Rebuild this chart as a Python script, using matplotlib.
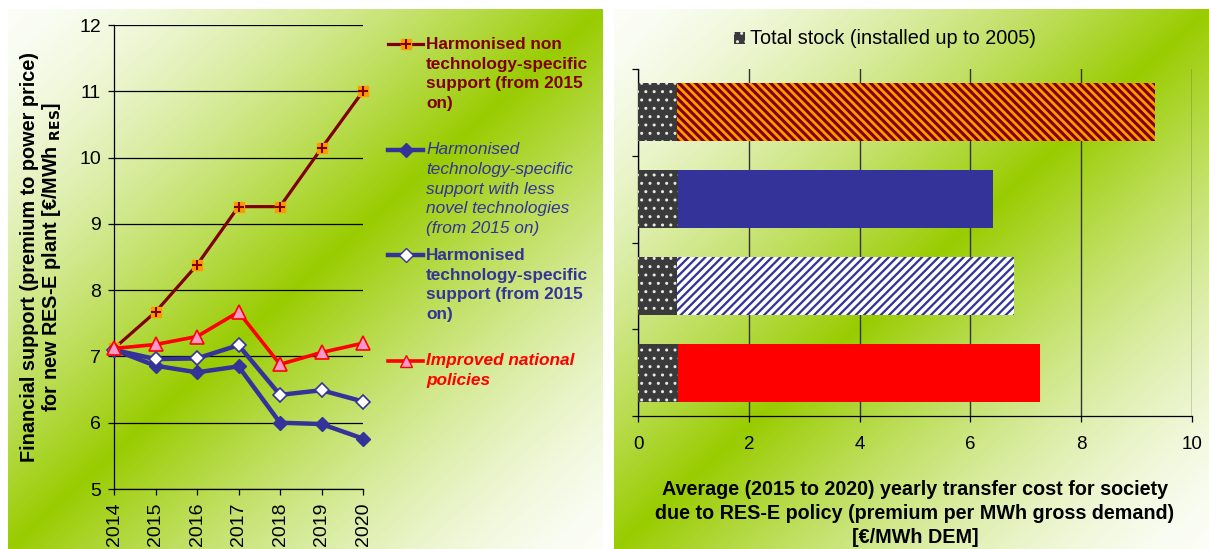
import numpy as np
import matplotlib
matplotlib.use("Agg")
import matplotlib.pyplot as plt
from matplotlib.lines import Line2D
from matplotlib.patches import Rectangle

plt.rcParams['font.family'] = ['Liberation Sans', 'DejaVu Sans']

# --- data ---
years = [2014, 2015, 2016, 2017, 2018, 2019, 2020]
non_tech = [7.12, 7.67, 8.38, 9.26, 9.26, 10.14, 11.0]
tech_less_novel = [7.1, 6.86, 6.76, 6.85, 6.0, 5.98, 5.76]
tech_specific = [7.1, 6.96, 6.97, 7.17, 6.42, 6.49, 6.32]
improved_national = [7.12, 7.18, 7.30, 7.67, 6.88, 7.06, 7.20]

series_labels = ["Harmonised non\ntechnology-specific\nsupport (from 2015\non)",
                 "Harmonised\ntechnology-specific\nsupport with less\nnovel technologies\n(from 2015 on)",
                 "Harmonised\ntechnology-specific\nsupport (from 2015\non)",
                 "Improved national\npolicies"]

# right chart: top to bottom
stock_cost = [0.71, 0.73, 0.71, 0.73]
total_cost = [9.33, 6.41, 6.78, 7.26]
stock_label = "Total stock (installed up to 2005)"

W, H = 1209, 549
fig = plt.figure(figsize=(W / 100, H / 100), dpi=100)

# background gradients (white -> green -> white along the diagonal)
bg = fig.add_axes([0, 0, 1, 1], zorder=-10)
bg.axis('off')
green = np.array([0.60, 0.80, 0.0])
white = np.array([1.0, 1.0, 1.0])


def gradient(x0, x1, y0, y1):
    u = np.linspace(0, 1, 300)[None, :]
    v = np.linspace(0, 1, 300)[:, None]
    t = (u + v) / 2
    w = np.clip(1 - np.abs(2 * t - 1), 0, 1) ** 1.5
    w = 0.03 + 0.97 * w
    img = white * (1 - w[..., None]) + green * w[..., None]
    bg.imshow(img, extent=(x0, x1, y1, y0), aspect='auto', interpolation='bilinear')


gradient(8, 603, 9, 549)
gradient(614, 1209, 9, 549)
bg.set_xlim(0, W)
bg.set_ylim(H, 0)

# ---------------- left chart ----------------
ax = fig.add_axes([114 / W, 1 - 489 / H, 249 / W, (489 - 25) / H])
ax.set_facecolor('none')
maroon = '#800000'
blue = '#333399'
red = '#FF0000'

ax.plot(years, non_tech, color=maroon, lw=2.3, marker='s', ms=7.5,
        mfc='#FF9900', mec='#FF9900', clip_on=False, zorder=3)
ax.plot(years, non_tech, ls='none', marker='+', ms=7.5, mew=1.5,
        mec=maroon, clip_on=False, zorder=3)
ax.plot(years, tech_less_novel, color=blue, lw=3.2, marker='D', ms=7.5,
        mfc=blue, mec=blue, clip_on=False, zorder=4)
ax.plot(years, tech_specific, color=blue, lw=3.2, marker='D', ms=7.5,
        mfc='white', mec=blue, mew=1.2, clip_on=False, zorder=5)
ax.plot(years, improved_national, color=red, lw=2.6, marker='^', ms=9.5,
        mfc='#FF99CC', mec=red, mew=1.2, clip_on=False, zorder=6)

ax.set_xlim(2014, 2020)
ax.set_ylim(5, 12)
ax.set_yticks(range(5, 13))
ax.set_xticks(years)
ax.set_xticklabels([str(y) for y in years], rotation=90)
ax.yaxis.grid(True, color='black', lw=0.9)
ax.set_axisbelow(True)
for s in ['top', 'right']:
    ax.spines[s].set_visible(False)
for s in ['left', 'bottom']:
    ax.spines[s].set_color('black')
    ax.spines[s].set_linewidth(0.9)
ax.tick_params(axis='both', direction='out', length=4.5, width=0.9,
               labelsize=14, pad=5)
ax.set_ylabel("Financial support (premium to power price)\n"
              r"for new RES-E plant [€/MWh $_{\mathbf{RES}}$]",
              fontsize=14.3, fontweight='bold', labelpad=11.5, linespacing=1.05)

# legend drawn beside the chart
leg_styles = [
    dict(color=maroon, fontweight='bold', fontstyle='normal'),
    dict(color=blue, fontweight='normal', fontstyle='italic'),
    dict(color=blue, fontweight='bold', fontstyle='normal'),
    dict(color=red, fontweight='bold', fontstyle='italic'),
]
leg_marks = [
    dict(color=maroon, lw=2.3, marker='s', ms=7, mfc='#FF9900', mec='#FF9900'),
    dict(color=blue, lw=3.2, marker='D', ms=7, mfc=blue, mec=blue),
    dict(color=blue, lw=3.2, marker='D', ms=7, mfc='white', mec=blue),
    dict(color=red, lw=2.6, marker='^', ms=8.5, mfc='#FF99CC', mec=red),
]
for i, (lab, st, mk) in enumerate(zip(series_labels, leg_styles, leg_marks)):
    yp = 44 + i * 105.5
    fy = 1 - yp / H
    fig.add_artist(Line2D([388 / W, 423 / W], [fy, fy], transform=fig.transFigure,
                          color=mk['color'], lw=mk['lw']))
    fig.add_artist(Line2D([405.5 / W], [fy], transform=fig.transFigure, ls='none',
                          marker=mk['marker'], ms=mk['ms'], mfc=mk['mfc'], mec=mk['mec']))
    if i == 0:
        fig.add_artist(Line2D([405.5 / W], [fy], transform=fig.transFigure, ls='none',
                              marker='+', ms=7, mew=1.5, mec=maroon))
    fig.text(426 / W, 1 - (yp - 7) / H, lab, ha='left', va='top', fontsize=12.4,
             linespacing=1.38, **st)

# ---------------- right chart ----------------
ax2 = fig.add_axes([638 / W, 1 - 416 / H, 554 / W, 347 / H])
ax2.set_facecolor('none')
pos = np.arange(len(total_cost))
policy_cost = np.array(total_cost) - np.array(stock_cost)
bar_h = 0.67


def set_hatch_lw(patches, lw):
    for p in patches:
        if hasattr(p, 'set_hatch_linewidth'):
            p.set_hatch_linewidth(lw)


with plt.rc_context({'hatch.linewidth': 1.0}):
    stock_bars = ax2.barh(pos, stock_cost, height=bar_h, color='#3a3a3a',
                          edgecolor='#e8e8e8', hatch='..', lw=0, zorder=3)
set_hatch_lw(stock_bars, 1.0)

bar_face = ['#800000', blue, blue, red]
bar_hatch_col = ['#FF9900', blue, 'white', red]
bar_hatch = ['\\\\\\\\', None, '////', None]
bar_hatch_lw = [2.0, 1.0, 2.6, 1.0]
for p, left, width, fc, hc, hh, hl in zip(pos, stock_cost, policy_cost, bar_face,
                                          bar_hatch_col, bar_hatch, bar_hatch_lw):
    with plt.rc_context({'hatch.linewidth': hl}):
        b = ax2.barh(p, width, left=left, height=bar_h, color=fc, edgecolor=hc,
                     hatch=hh, lw=0, zorder=3)
    set_hatch_lw(b, hl)

ax2.set_ylim(3.5, -0.5)
ax2.set_xlim(0, 10)
ax2.set_xticks(range(0, 11, 2))
ax2.set_yticks(np.arange(-0.5, 4.0, 1.0))
ax2.set_yticklabels([])
ax2.xaxis.grid(True, color='#333333', lw=1.0)
ax2.set_axisbelow(True)
for s in ['top', 'right']:
    ax2.spines[s].set_visible(False)
for s in ['left', 'bottom']:
    ax2.spines[s].set_color('black')
    ax2.spines[s].set_linewidth(0.9)
ax2.tick_params(axis='both', direction='out', length=4.5, width=0.9,
                labelsize=13.5)
ax2.tick_params(axis='x', pad=10)
ax2.set_xlabel("Average (2015 to 2020) yearly transfer cost for society\n"
               "due to RES-E policy (premium per MWh gross demand)\n"
               "[€/MWh DEM]", fontsize=14.2, fontweight='bold', labelpad=19,
               linespacing=1.35)

# legend above the bars
with plt.rc_context({'hatch.linewidth': 1.0}):
    sw = Rectangle((734 / W, 1 - 44 / H), 11 / W, 12 / H,
                   transform=fig.transFigure, facecolor='#3a3a3a',
                   edgecolor='#e8e8e8', hatch='..', lw=0)
set_hatch_lw([sw], 1.0)
fig.add_artist(sw)
fig.text(750 / W, 1 - 38 / H, stock_label, ha='left', va='center', fontsize=14.3)

fig.savefig("out.png", dpi=100)
